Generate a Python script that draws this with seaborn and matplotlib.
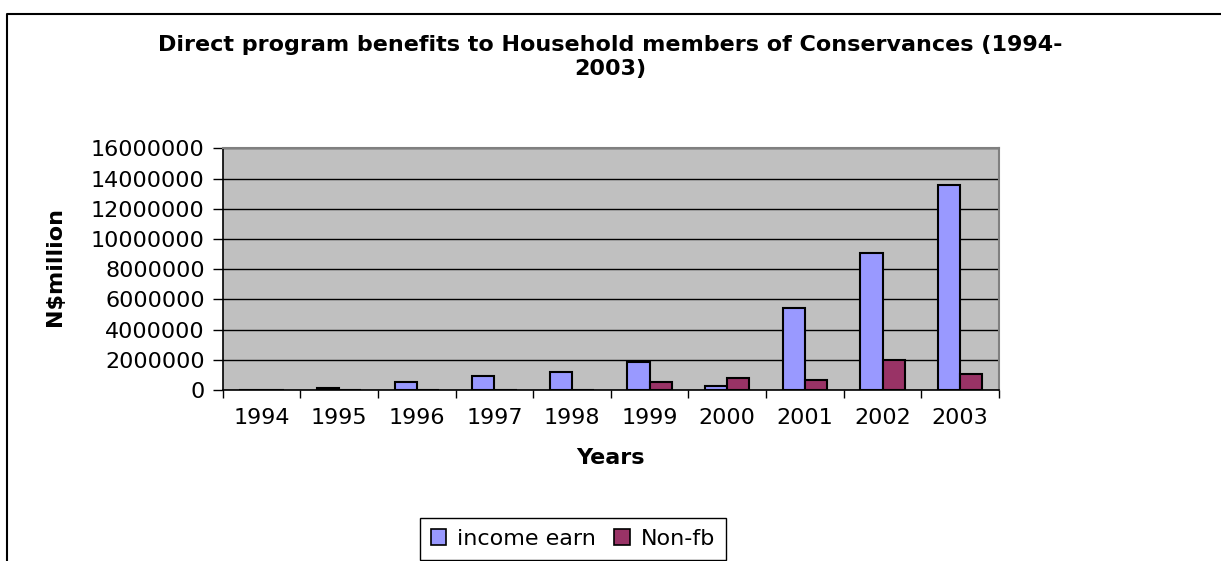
import matplotlib
matplotlib.use("Agg")
import matplotlib.pyplot as plt
from matplotlib.lines import Line2D
from matplotlib.patches import Patch
from matplotlib.ticker import FuncFormatter, MultipleLocator, FixedLocator
import numpy as np
import pandas as pd
import seaborn as sns

# Benefit values per year (N$)
years = ["1994", "1995", "1996", "1997", "1998", "1999", "2000", "2001", "2002", "2003"]
income_earn = [0, 150000, 550000, 950000, 1200000, 1850000, 250000, 5400000, 9100000, 13600000]
non_fb = [0, 0, 0, 0, 0, 500000, 780000, 660000, 2000000, 1040000]
series_names = ["income earn", "Non-fb"]
series_colors = ["#9999FF", "#993366"]

df = pd.DataFrame({
    "Year": years * 2,
    "Value": income_earn + non_fb,
    "Series": [series_names[0]] * len(years) + [series_names[1]] * len(years),
})

sns.set_theme(style="white")
plt.rcParams["font.family"] = ["DejaVu Sans"]
plt.rcParams["text.color"] = "black"
plt.rcParams["axes.labelcolor"] = "black"

fig = plt.figure(figsize=(12.21, 5.61), dpi=100)
fig.patch.set_facecolor("white")
W, H = 1221, 561
ax = fig.add_axes([222.7 / W, 1 - 390 / H, (999 - 222.7) / W, (390 - 148.3) / H])
ax.set_facecolor("#C0C0C0")

sns.barplot(data=df, x="Year", y="Value", hue="Series", palette=series_colors,
            saturation=1, width=2 / 3.5, edgecolor="black", linewidth=1.5, ax=ax,
            legend=False, zorder=3)

ax.set_ylim(0, 16000000)
ax.set_xlim(-0.5, len(years) - 0.5)
ax.yaxis.set_major_locator(MultipleLocator(2000000))
ax.yaxis.set_major_formatter(FuncFormatter(lambda v, p: f"{int(round(v))}"))
ax.grid(axis="y", color="black", linewidth=1.0, zorder=1)
ax.set_axisbelow(True)

# category boundary ticks on the x axis, labels at centres
ax.xaxis.set_minor_locator(FixedLocator(np.arange(-0.5, len(years), 1.0)))
ax.tick_params(axis="x", which="major", length=0, pad=13, labelsize=16, colors="black")
ax.tick_params(axis="x", which="minor", length=6, width=1, color="black", direction="out", bottom=True)
ax.tick_params(axis="y", which="major", length=7, width=1, color="black", direction="out",
               left=True, pad=6, labelsize=16, labelcolor="black")

for side in ["top", "right"]:
    ax.spines[side].set_color("#808080")
    ax.spines[side].set_linewidth(1.5)
for side in ["left", "bottom"]:
    ax.spines[side].set_color("black")
    ax.spines[side].set_linewidth(1.2)

ax.set_xlabel("Years", fontsize=16, fontweight="bold", labelpad=14, color="black")
ax.set_ylabel("N\\$million", fontsize=16, fontweight="bold", labelpad=0, color="black")
ax.yaxis.set_label_coords((65 - 222.7) / (999 - 222.7), (390 - 267) / (390 - 148.3))

fig.text(0.5, 1 - 45 / H, "Direct program benefits to Household members of Conservances (1994-",
         ha="center", va="center", fontsize=16, fontweight="bold", color="black")
fig.text(0.5, 1 - 69 / H, "2003)", ha="center", va="center", fontsize=16, fontweight="bold",
         color="black")

# outer chart frame (open to the right and bottom)
fig.add_artist(Line2D([7 / W, 7 / W, 1.0], [0.0, 1 - 14 / H, 1 - 14 / H],
                      transform=fig.transFigure, color="black", linewidth=1.5))

handles = [Patch(facecolor=c, edgecolor="black", linewidth=1.2) for c in series_colors]
leg = fig.legend(handles, series_names, loc="center", bbox_to_anchor=(573 / W, 1 - 539 / H),
                 ncol=2, fontsize=16, frameon=True, fancybox=False, framealpha=1,
                 handlelength=0.7, handleheight=0.7, handletextpad=0.5, columnspacing=0.8,
                 borderpad=0.5, labelcolor="black")
leg.get_frame().set_edgecolor("black")
leg.get_frame().set_linewidth(1.0)

fig.savefig("out.png", dpi=100, facecolor="white")
